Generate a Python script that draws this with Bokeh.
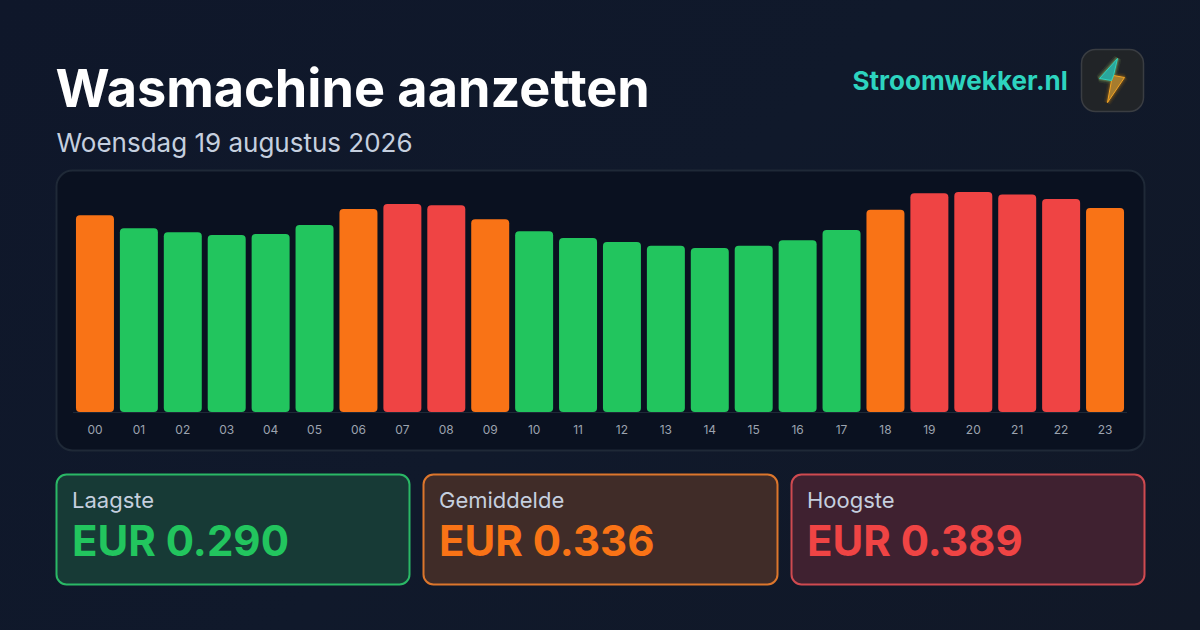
from bokeh.plotting import figure
from bokeh.models import Range1d, LinearAxis, FixedTicker, ColumnDataSource, GlobalInlineStyleSheet
from bokeh.core.properties import value
from bokeh.embed import file_html
from bokeh.resources import INLINE

hours = ["%02d" % h for h in range(24)]
prices = [.348, .325, .318, .313, .315, .331, .359, .368, .366, .341, .320, .308,
          .301, .294, .290, .294, .304, .322, .358, .387, .389, .385, .377, .361]
levels = ["m", "l", "l", "l", "l", "l", "m", "h", "h", "m", "l", "l",
          "l", "l", "l", "l", "l", "l", "m", "h", "h", "h", "h", "m"]
palette = {"l": "#22c55e", "m": "#f97316", "h": "#ef4444"}
title = "Wasmachine aanzetten"
subtitle = "Woensdag 19 augustus 2026"
brand = "Stroomwekker.nl"
card_names = ["Laagste", "Gemiddelde", "Hoogste"]
card_values = ["EUR 0.290", "EUR 0.336", "EUR 0.389"]

W, H = 1200, 630
FL, FR, BASE = 72.5, 1126.5, 411.6    # plot area in page pixels
PX_PER_EUR = 565.5
STEP = (FR - FL) / 24

p = figure(width=W, height=H, output_backend="svg", toolbar_location=None,
           x_range=Range1d(0, W), y_range=Range1d(H, 0),
           x_axis_location=None, y_axis_location=None,
           min_border=0, min_border_left=0, min_border_right=0, min_border_top=0, min_border_bottom=0,
           background_fill_alpha=0, border_fill_alpha=0, outline_line_alpha=0)
p.stylesheets.append(GlobalInlineStyleSheet(css="""
html,body{background:linear-gradient(135deg,#0f172a 0%,#10192b 50%,#111827 100%);overflow:hidden}
"""))
p.grid.visible = False
p.extra_x_ranges["hrs"] = Range1d(-0.5 - FL / STEP, 23.5 + (W - FR) / STEP)
p.extra_y_ranges["eur"] = Range1d((BASE - H) / PX_PER_EUR, BASE / PX_PER_EUR)

def box(l, r, t, b, fill, line, lw, radius):
    p.quad(left=l, right=r, top=t, bottom=b, fill_color=fill, line_color=line,
           line_width=lw, border_radius=radius)

def text(x, y, s, size, color, style="normal"):
    # the SVG text of this glyph lands about 0.39 em under the asked baseline
    p.text(x=[x], y=[y - 0.39 * size], text=[s], text_font=value("Inter"), text_font_size=f"{size}px",
           text_font_style=style, text_color=color, text_baseline="alphabetic")

box(56, 1144, 170, 450, "#0a1120", "#1f2937", 2, 16)
p.segment(x0=[FL], x1=[FR], y0=[412], y1=[412], line_color="#1f2937", line_width=1)
positions = list(range(len(hours)))
src = ColumnDataSource(dict(x=positions, top=prices, c=[palette[k] for k in levels]))
p.vbar(x="x", top="top", bottom=0, width=0.865, fill_color="c", line_color=None, source=src, border_radius=4,
       x_range_name="hrs", y_range_name="eur")

ax = LinearAxis(x_range_name="hrs", fixed_location=412, ticker=FixedTicker(ticks=positions),
                major_label_overrides=dict(zip(positions, hours)))
ax.axis_line_color = None
ax.major_tick_line_color = None
ax.minor_tick_line_color = None
ax.major_label_text_color = "#9ca3af"
ax.major_label_text_font = "Inter"
ax.major_label_text_font_size = "12px"
ax.major_label_standoff = 6
p.add_layout(ax, "below")

text(55, 108, title, 52.2, "#ffffff", "bold")
text(56, 152, subtitle, 26, "#c5cfdf")
text(852, 90, brand, 26, "#2dd4bf", "bold")

box(1081, 1143, 49, 111, "#212427", "#3a3d42", 1.5, 14)
bolt_x = [1117, 1099, 1111, 1107, 1124, 1113]
bolt_y = [58, 78, 80, 102, 77, 75]
for lw, a in ((8, .06), (5, .1), (3, .16)):
    p.patch(bolt_x, bolt_y, fill_alpha=0, line_color="#f59e0b", line_alpha=a, line_width=lw)
    p.patch(bolt_x[:3] + bolt_x[5:], bolt_y[:3] + bolt_y[5:], fill_alpha=0,
            line_color="#2dd4bf", line_alpha=a, line_width=lw)
p.patch([1111, 1107, 1124, 1113], [80, 102, 77, 75], fill_color="#a67c2e", line_color="#f5a524", line_width=1)
p.patch([1117, 1099, 1111, 1113], [58, 78, 80, 75], fill_color="#2aa69c", line_color="#2dd4bf", line_width=1)

card_left = [55, 422, 790]
card_right = [410, 778, 1145]
card_text = ["#22c55e", "#f97316", "#ef4444"]
card_line = ["#2ab866", "#dc762c", "#cf4a50"]
card_fill = ["#173a36", "#402c28", "#3f2130"]
for name, val, tc, col, fill, l, r in zip(card_names, card_values, card_text, card_line, card_fill, card_left, card_right):
    box(l + 1, r - 1, 474, 584, fill, col, 2, 10)
    text(l + 16.5, 508, name, 22, "#c5cfdf")
    text(l + 16.5, 556, val, 42, tc, "bold")

open("out.html", "w").write(file_html(p, INLINE))
